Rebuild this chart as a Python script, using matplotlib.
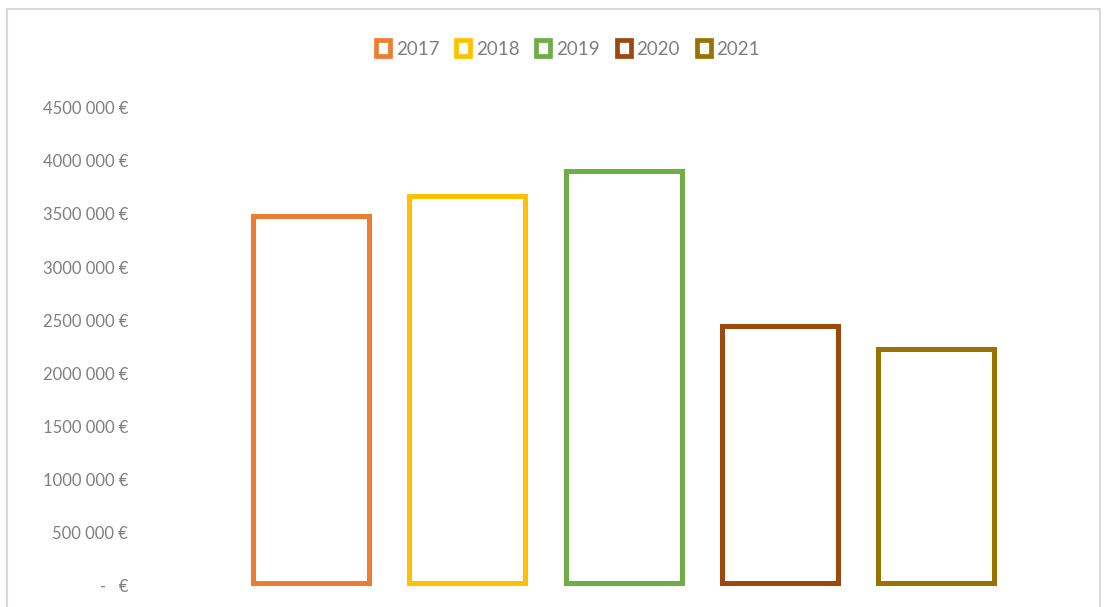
import matplotlib
matplotlib.use("Agg")
import matplotlib.pyplot as plt
from matplotlib.patches import Rectangle
import matplotlib.transforms as mtransforms

# Data
years = ["2017", "2018", "2019", "2020", "2021"]
values = [3450000, 3640000, 3870000, 2415000, 2200000]
colors = ["#ED7D31", "#FFC000", "#70AD47", "#9E480E", "#997300"]
yticks = [0, 500000, 1000000, 1500000, 2000000, 2500000, 3000000, 3500000, 4000000, 4500000]
ytick_labels = ["-   €", "500 000 €", "1000 000 €", "1500 000 €", "2000 000 €",
                "2500 000 €", "3000 000 €", "3500 000 €", "4000 000 €", "4500 000 €"]

FONT = ["Lato", "DejaVu Sans"]
plt.rcParams["font.family"] = FONT
TEXT_COLOR = "#7f7f7f"

W, H = 1107, 607
fig = plt.figure(figsize=(W / 100, H / 100), dpi=100)
fig.patch.set_facecolor("white")

# chart border
fig.patches.append(Rectangle((7 / W, -0.05), (1100 - 7) / W, (H - 9) / H + 0.05,
                             transform=fig.transFigure, fill=False,
                             edgecolor="#d9d9d9", linewidth=1.5))

# axes placement (pixels)
ax_left, ax_right = 140, 1098
ax_bottom_px = 583  # y pixel of 0 from top
ax_top_px = 104.5
ax = fig.add_axes([ax_left / W, (H - ax_bottom_px) / H,
                   (ax_right - ax_left) / W, (ax_bottom_px - ax_top_px) / H])

x = list(range(len(years)))
step = 156.3
x0px = 311
ax.set_xlim((ax_left - x0px) / step, (ax_right - x0px) / step)
ax.set_ylim(0, 4500000)

bar_w = 116 / step
for xi, v, c, yr in zip(x, values, colors, years):
    ax.bar(xi, v, width=bar_w, facecolor="none", edgecolor=c,
           linewidth=3.6, clip_on=False, label=yr)

ax.set_yticks(yticks)
ax.set_yticklabels(ytick_labels)
ax.set_xticks([])
for s in ax.spines.values():
    s.set_visible(False)
ax.tick_params(axis="y", length=0, pad=8.6, labelsize=12, labelcolor=TEXT_COLOR)
shift = mtransforms.ScaledTranslation(0, -3 / 100, fig.dpi_scale_trans)
for lab in ax.get_yticklabels():
    lab.set_fontfamily(FONT)
    lab.set_transform(lab.get_transform() + shift)

handles = [Rectangle((0, 0), 1, 1, facecolor="white", edgecolor=c, linewidth=3.4)
           for c in colors]
leg = fig.legend(handles, years, loc="center", bbox_to_anchor=(568 / W, 1 - 49 / H),
                 ncol=5, frameon=False, handlelength=0.75, handleheight=0.95,
                 handletextpad=0.3, columnspacing=0.9,
                 prop={"family": FONT, "size": 13.5})
for t in leg.get_texts():
    t.set_color(TEXT_COLOR)

fig.savefig("out.png", dpi=100, facecolor="white")
